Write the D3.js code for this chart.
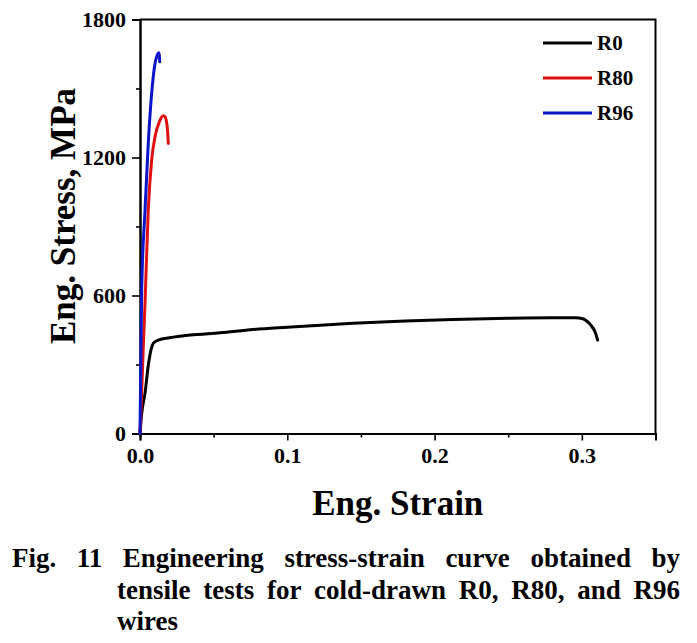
<!DOCTYPE html>
<html>
<head>
<meta charset="utf-8">
<script src="https://cdn.jsdelivr.net/npm/d3@7"></script>
<style>
  html, body { margin: 0; padding: 0; background: #fff; }
  svg { display: block; }
  text { font-family: 'Liberation Serif', 'Times New Roman', serif; font-weight: bold; fill: #000; }
</style>
</head>
<body>
<svg id="chart" width="697" height="643"></svg>
<script>
// ---- data ----
const seriesNames = ["R0", "R80", "R96"];
const seriesColors = ["#000000", "#e01010", "#0a14c8"];
const r0Strain = [0, 0.0012, 0.0034, 0.0057, 0.0075, 0.009, 0.0124, 0.02, 0.034, 0.0543, 0.0768, 0.1, 0.1446, 0.18, 0.2124, 0.25, 0.28, 0.296, 0.300, 0.3035, 0.3065, 0.309, 0.3107];
const r0Stress = [0, 90, 175, 300, 365, 392, 406, 416, 428, 438, 452, 462, 479, 489, 496, 501, 503, 503, 500, 488, 468, 441, 406];
const r80Strain = [0, 0.0011, 0.0022, 0.0034, 0.0056, 0.0079, 0.0102, 0.0131, 0.0158, 0.0172, 0.018, 0.0188, 0.0192];
const r80Stress = [0, 174, 370, 565, 971, 1188, 1290, 1355, 1382, 1375, 1355, 1310, 1261];
const r96Strain = [0, 0.0011, 0.0034, 0.0056, 0.0079, 0.0102, 0.0117, 0.0128, 0.0132, 0.0134];
const r96Stress = [0, 609, 971, 1261, 1478, 1609, 1645, 1655, 1640, 1616];
const xTicks = [0, 0.1, 0.2, 0.3];
const xMinorTicks = [0.05, 0.15, 0.25, 0.35];
const yTicks = [0, 600, 1200, 1800];
const yMinorTicks = [300, 900, 1500];
const xTitle = "Eng. Strain";
const yTitle = "Eng. Stress, MPa";
const captionLines = [
  "Fig. 11 Engineering stress-strain curve obtained by",
  "tensile tests for cold-drawn R0, R80, and R96",
  "wires"
];

// ---- layout ----
const svg = d3.select("#chart");
const L = 140, R = 655.5, T = 19.5, B = 433.5;
const x = d3.scaleLinear().domain([0, 0.35]).range([L, R]);
const y = d3.scaleLinear().domain([0, 1800]).range([B, T]);

// frame (top and right)
svg.append("path")
  .attr("d", `M${L},${T}H${R}V${B}`)
  .attr("fill", "none").attr("stroke", "#000").attr("stroke-width", 2);

// x axis
const xAxis = svg.append("g").attr("transform", `translate(0,${B})`);
xAxis.call(d3.axisBottom(x).tickValues(xTicks).tickFormat(d3.format(".1f")).tickSize(7).tickPadding(7));
xAxis.append("g").call(d3.axisBottom(x).tickValues(xMinorTicks).tickFormat("").tickSize(4));
// y axis
const yAxis = svg.append("g").attr("transform", `translate(${L},0)`);
yAxis.call(d3.axisLeft(y).tickValues(yTicks).tickFormat(d3.format("d")).tickSize(8).tickPadding(6));
yAxis.append("g").call(d3.axisLeft(y).tickValues(yMinorTicks).tickFormat("").tickSize(4));

svg.selectAll(".domain").attr("stroke", "#000").attr("stroke-width", 2);
svg.selectAll(".tick line").attr("stroke", "#000").attr("stroke-width", 1.6);
svg.selectAll(".tick text")
  .style("font-family", "'Liberation Serif', 'Times New Roman', serif")
  .style("font-weight", "bold").style("font-size", "22px").attr("fill", "#000");

// axis titles
svg.append("text").attr("x", (L + R) / 2).attr("y", 515)
  .attr("text-anchor", "middle").style("font-size", "35px").text(xTitle);
svg.append("text").attr("transform", "translate(75,216) rotate(-90)")
  .attr("text-anchor", "middle").style("font-size", "35px").text(yTitle);

// curves
const series = [
  { strain: r0Strain, stress: r0Stress },
  { strain: r80Strain, stress: r80Stress },
  { strain: r96Strain, stress: r96Stress }
];
const line = d3.line().x(d => x(d[0])).y(d => y(d[1])).curve(d3.curveMonotoneX);
series.forEach((s, i) => {
  const pts = s.strain.map((v, j) => [v, s.stress[j]]);
  svg.append("path").datum(pts).attr("d", line)
    .attr("fill", "none").attr("stroke", seriesColors[i])
    .attr("stroke-width", 3).attr("stroke-linejoin", "round").attr("stroke-linecap", "round");
});

// legend
const legY = [43, 78, 113];
seriesNames.forEach((n, i) => {
  svg.append("line").attr("x1", 543).attr("x2", 592).attr("y1", legY[i]).attr("y2", legY[i])
    .attr("stroke", seriesColors[i]).attr("stroke-width", 3);
  svg.append("text").attr("x", 597).attr("y", legY[i] + 7).style("font-size", "21px").text(n);
});

// caption (justified)
const capFont = "27px";
function justify(text, left, right, baseline, doJustify) {
  const words = text.split(" ");
  const nodes = words.map(w => svg.append("text").attr("y", baseline).style("font-size", capFont).text(w));
  const widths = nodes.map(n => n.node().getComputedTextLength());
  const total = d3.sum(widths);
  const gap = doJustify && words.length > 1 ? (right - left - total) / (words.length - 1) : 6;
  let cx = left;
  nodes.forEach((n, i) => { n.attr("x", cx); cx += widths[i] + gap; });
}
justify(captionLines[0], 12, 680, 567, true);
justify(captionLines[1], 117, 680, 599, true);
justify(captionLines[2], 117, 680, 630, false);
</script>
</body>
</html>
